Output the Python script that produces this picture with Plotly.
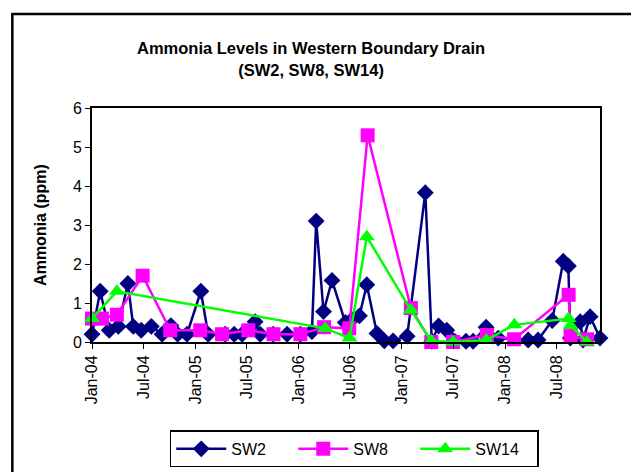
import plotly.graph_objects as go

# ---- data ----
sw2_dates = ["2004-01-01", "2004-01-30", "2004-03-02", "2004-04-03", "2004-05-07", "2004-05-26",
             "2004-06-23", "2004-07-29", "2004-09-05", "2004-10-06", "2004-10-30", "2004-12-02",
             "2005-01-20", "2005-02-15", "2005-04-16", "2005-05-18", "2005-06-15", "2005-07-31",
             "2005-08-18", "2005-10-03", "2005-11-21", "2006-01-07", "2006-02-17", "2006-03-04",
             "2006-03-30", "2006-04-29", "2006-06-15", "2006-07-08", "2006-08-04", "2006-08-30",
             "2006-10-05", "2006-10-31", "2006-12-01", "2007-01-20", "2007-03-25", "2007-04-17",
             "2007-05-11", "2007-06-09", "2007-08-16", "2007-09-10", "2007-10-26", "2007-12-08",
             "2008-03-23", "2008-04-27", "2008-06-16", "2008-07-25", "2008-08-12", "2008-08-19",
             "2008-09-23", "2008-10-03", "2008-10-28", "2008-12-02"]
sw2_vals = [0.2, 1.3, 0.3, 0.4, 1.5, 0.4,
            0.3, 0.4, 0.2, 0.42, 0.2, 0.2,
            1.3, 0.2, 0.2, 0.2, 0.2, 0.52,
            0.2, 0.2, 0.2, 0.2, 0.27, 3.1,
            0.78, 1.58, 0.5, 0.57, 0.67, 1.47,
            0.22, 0.03, 0.03, 0.15, 3.83, 0.02,
            0.41, 0.3, 0.02, 0.02, 0.38, 0.1,
            0.05, 0.05, 0.55, 2.07, 1.95, 0.1,
            0.52, 0.05, 0.65, 0.1]

sw8_dates = ["2004-01-01", "2004-02-05", "2004-03-29", "2004-06-28", "2004-10-04", "2005-01-18",
             "2005-04-05", "2005-07-07", "2005-10-04", "2006-01-07", "2006-04-01", "2006-06-29",
             "2006-09-02", "2007-02-02", "2007-04-15", "2007-07-01", "2007-10-29", "2008-02-02",
             "2008-08-13", "2008-08-20", "2008-10-17"]
sw8_vals = [0.6, 0.6, 0.7, 1.7, 0.3, 0.3,
            0.2, 0.3, 0.2, 0.2, 0.38, 0.35,
            5.3, 0.87, 0.0, 0.0, 0.18, 0.07,
            1.21, 0.15, 0.07]

sw14_dates = ["2004-01-01", "2004-03-29", "2006-04-05", "2006-06-30", "2006-08-30", "2007-02-02",
              "2007-04-15", "2007-07-01", "2007-10-27", "2008-02-03", "2008-08-13", "2008-08-20",
              "2008-10-17"]
sw14_vals = [0.6, 1.3, 0.35, 0.1, 2.7, 0.82,
             0.03, 0.0, 0.05, 0.44, 0.6, 0.42,
             0.0]

y_ticks = [0, 1, 2, 3, 4, 5, 6]
x_ticks = ["2004-01-01", "2004-07-01", "2005-01-01", "2005-07-01", "2006-01-01", "2006-07-01",
           "2007-01-01", "2007-07-01", "2008-01-01", "2008-07-01"]
x_tick_labels = ["Jan-04", "Jul-04", "Jan-05", "Jul-05", "Jan-06", "Jul-06",
                 "Jan-07", "Jul-07", "Jan-08", "Jul-08"]

FONT = "Liberation Sans, Arial, sans-serif"

fig = go.Figure()
fig.add_trace(go.Scatter(x=sw2_dates, y=sw2_vals, name="SW2", mode="lines+markers",
                         line=dict(color="#000080", width=2.5),
                         marker=dict(symbol="diamond", size=13, color="#000080"),
                         cliponaxis=False))
fig.add_trace(go.Scatter(x=sw8_dates, y=sw8_vals, name="SW8", mode="lines+markers",
                         line=dict(color="#FF00FF", width=2.5),
                         marker=dict(symbol="square", size=14, color="#FF00FF"),
                         cliponaxis=False))
fig.add_trace(go.Scatter(x=sw14_dates, y=sw14_vals, name="SW14", mode="lines+markers",
                         line=dict(color="#00FF00", width=2.5),
                         marker=dict(symbol="triangle-up", size=14, color="#00FF00"),
                         cliponaxis=False))

fig.update_layout(
    width=631, height=472,
    margin=dict(l=92, r=31, t=108, b=130, autoexpand=False),
    paper_bgcolor="white", plot_bgcolor="white",
    font=dict(family=FONT, size=16, color="black"),
    title=dict(text="<b>Ammonia Levels in Western Boundary Drain<br>(SW2, SW8, SW14)</b>",
               x=0.493, xref="container", xanchor="center",
               y=0.885, yref="container", yanchor="top",
               font=dict(family=FONT, size=16.5, color="black")),
    showlegend=True,
    legend=dict(orientation="h", x=0.269, y=0.088, xref="container", yref="container",
                xanchor="left", yanchor="top",
                bordercolor="black", borderwidth=1.5, bgcolor="white",
                font=dict(family=FONT, size=16), itemwidth=50,
                entrywidth=57, entrywidthmode="pixels"),
    xaxis=dict(type="date", range=["2004-01-01", "2008-12-02"], automargin=False,
               tickmode="array", tickvals=x_ticks, ticktext=x_tick_labels,
               tickangle=-90, ticks="outside", ticklen=5, tickcolor="black",
               showline=True, linecolor="black", linewidth=2, mirror=True,
               showgrid=False, zeroline=False,
               tickfont=dict(family=FONT, size=16)),
    yaxis=dict(range=[0, 6], tickmode="array", tickvals=y_ticks, automargin=False,
               ticks="outside", ticklen=5, tickcolor="black",
               showline=True, linecolor="black", linewidth=2, mirror=True,
               showgrid=False, zeroline=False,
               title=dict(text="<b>Ammonia (ppm)</b>", standoff=22,
                          font=dict(family=FONT, size=16)),
               tickfont=dict(family=FONT, size=16)),
    shapes=[dict(type="rect", xref="paper", yref="paper",
                 x0=-0.1568, x1=1.09, y0=-0.62, y1=1.4017,
                 line=dict(color="black", width=2.5), layer="below")],
)

fig.write_html("out.html")
